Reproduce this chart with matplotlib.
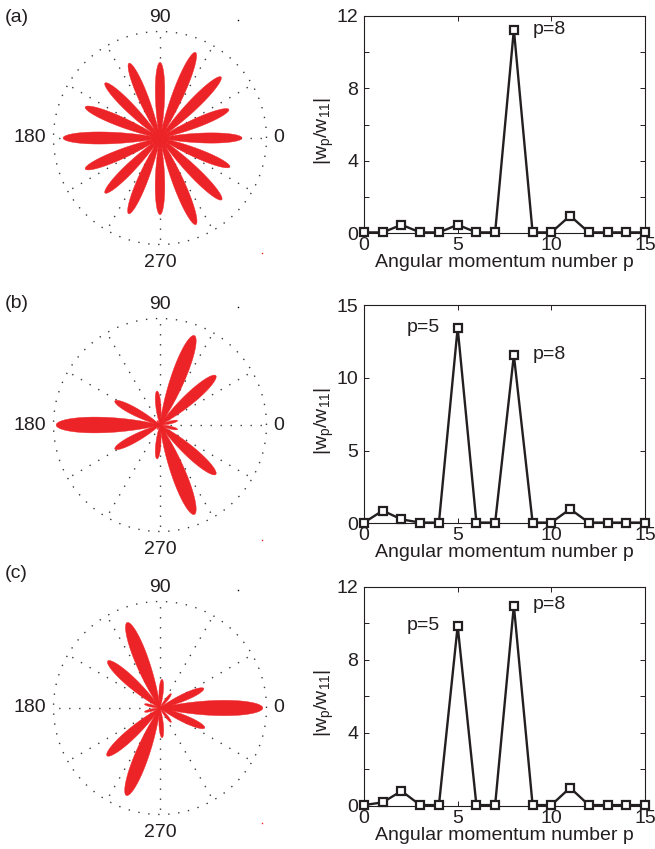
import numpy as np
import matplotlib
matplotlib.use("Agg")
import matplotlib.pyplot as plt
from matplotlib.lines import Line2D

plt.rcParams['font.family'] = ['Liberation Sans', 'DejaVu Sans']
plt.rcParams['mathtext.fontset'] = 'custom'
plt.rcParams['mathtext.rm'] = 'Liberation Sans'
plt.rcParams['mathtext.it'] = 'Liberation Sans:italic'
plt.rcParams['mathtext.bf'] = 'Liberation Sans:bold'

# ---------------- data ----------------
p_values = list(range(16))
w_a = [0.05, 0.05, 0.47, 0.05, 0.05, 0.47, 0.05, 0.05, 11.25, 0.05, 0.05, 0.97, 0.05, 0.05, 0.05, 0.05]
w_b = [0.05, 0.87, 0.27, 0.05, 0.05, 13.43, 0.05, 0.05, 11.56, 0.05, 0.05, 0.98, 0.05, 0.05, 0.05, 0.05]
w_c = [0.05, 0.20, 0.82, 0.05, 0.05, 9.85, 0.05, 0.05, 10.97, 0.05, 0.05, 1.00, 0.05, 0.05, 0.05, 0.05]

# polar lobes: direction (deg) and relative length
lobe_ang_a = [0, 22.5, 45, 67.5, 90, 112.5, 135, 157.5, 180, 202.5, 225, 247.5, 270, 292.5, 315, 337.5]
lobe_len_a = [0.77, 0.70, 0.81, 0.87, 0.71, 0.76, 0.73, 0.76, 0.91, 0.76, 0.73, 0.77, 0.72, 0.88, 0.82, 0.71]
lobe_ang_b = [14, 41.5, 69, 95, 124, 152, 180, 208, 236, 265, 291, 318.5, 346]
lobe_len_b = [0.17, 0.70, 0.90, 0.32, 0.05, 0.48, 0.975, 0.48, 0.05, 0.32, 0.90, 0.70, 0.17]
lobe_ang_c = [0, 24, 52, 86, 111, 138, 166, 194, 222, 249, 274, 308, 336]
lobe_len_c = [0.965, 0.45, 0.17, 0.27, 0.86, 0.66, 0.15, 0.15, 0.67, 0.88, 0.28, 0.17, 0.46]

panel_labels = ['(a)', '(b)', '(c)']
ylims = [12, 15, 12]
ytick_major = [[0, 4, 8, 12], [0, 5, 10, 15], [0, 4, 8, 12]]
ytick_all = [[0, 2, 4, 6, 8, 10, 12], [0, 5, 10, 15], [0, 2, 4, 6, 8, 10, 12]]
annotations = [
    [("p=8", 9.0, 11.28)],
    [("p=5", 2.3, 13.42), ("p=8", 9.0, 11.63)],
    [("p=5", 2.3, 9.85), ("p=8", 9.0, 11.0)],
]

# ---------------- layout ----------------
W, H = 655, 849
fig = plt.figure(figsize=(W / 100, H / 100), dpi=100)
TXT = '#231f20'
RED = '#ed2427'
FS = 14

centers_y = [138, 425, 708]
R = 106.5
right_boxes = [(16, 233.3), (305, 523.3), (586.7, 806)]
label_y = [17.5, 303.5, 573.5]
lobe_sets = [(lobe_ang_a, lobe_len_a, 6.6), (lobe_ang_b, lobe_len_b, 5.4), (lobe_ang_c, lobe_len_c, 5.5)]
w_sets = [w_a, w_b, w_c]

dot_ls = (0, (1, 6.2))

for i in range(3):
    cy = centers_y[i]
    cx = 160
    pax = fig.add_axes([(cx - R) / W, (H - cy - R) / H, 2 * R / W, 2 * R / H], projection='polar')
    pax.set_ylim(0, 1)
    pax.set_xticks([])
    pax.set_yticks([])
    pax.grid(False)
    pax.spines['polar'].set_visible(False)
    # dotted grid
    tt = np.linspace(0, 2 * np.pi, 721)
    pax.plot(tt, np.ones_like(tt), ls=dot_ls, lw=1.0, color='#3a3a3a', zorder=1, clip_on=False)
    for a in range(0, 360, 30):
        t = np.deg2rad(a)
        pax.plot([t, t], [0, 1], ls=dot_ls, lw=1.0, color='#3a3a3a', zorder=1, clip_on=False)
    # lobes
    angs, lens, k = lobe_sets[i]
    th = np.linspace(0, 2 * np.pi, 7201)
    r = np.zeros_like(th)
    for a, L in zip(angs, lens):
        d = (th - np.deg2rad(a) + np.pi) % (2 * np.pi) - np.pi
        x = k * d
        g = np.where(np.abs(x) < np.pi / 2, np.cos(x) ** 2, 0.0)
        r = np.maximum(r, L * g)
    pax.fill(th, r, color=RED, lw=0.3, ec=RED, zorder=3)
    # angle labels
    pax.text(0, 1.065, '0', ha='left', va='center', fontsize=FS, color=TXT)
    pax.text(np.pi, 1.065, '180', ha='right', va='center', fontsize=FS, color=TXT)
    pax.text(np.pi / 2, 1.13, '90', ha='center', va='center', fontsize=FS, color=TXT)
    pax.text(3 * np.pi / 2, 1.17, '270', ha='center', va='center', fontsize=FS, color=TXT)
    # panel label
    fig.text(5 / W, 1 - label_y[i] / H, panel_labels[i], ha='left', va='center', fontsize=FS, color=TXT)
    # small stray dots
    fig.add_artist(Line2D([(cx + 78) / W], [1 - (cy - 118) / H], marker='s', ms=1.0, mew=0, color='k'))
    fig.add_artist(Line2D([(cx + 102) / W], [1 - (cy + 115) / H], marker='s', ms=1.0, mew=0, color=RED))

    # right panel
    top, bot = right_boxes[i]
    ax = fig.add_axes([364 / W, (H - bot) / H, (645 - 364) / W, (bot - top) / H])
    ax.plot(p_values, w_sets[i], '-s', color=TXT, lw=1.7, ms=6.3, mew=1.6,
            mfc='white', mec=TXT, clip_on=False, zorder=5)
    ax.set_xlim(0, 15)
    ax.set_ylim(0, ylims[i])
    ax.set_xticks([0, 5, 10, 15])
    ax.set_yticks(ytick_all[i])
    ax.set_yticklabels([str(v) if v in ytick_major[i] else '' for v in ytick_all[i]])
    ax.tick_params(direction='in', top=True, right=True, length=3.5, width=0.7,
                   labelsize=FS, colors=TXT, pad=3)
    ax.tick_params(axis='y', pad=4)
    for s in ax.spines.values():
        s.set_linewidth(0.8)
        s.set_color(TXT)
    ax.set_xlabel('Angular momentum number p', fontsize=FS, color=TXT, labelpad=0)
    ax.set_ylabel(r'$\mathrm{|w_p/w_{11}|}$', fontsize=FS, color=TXT)
    ax.yaxis.set_label_coords(-0.10, 0.47)
    for txt, x, y in annotations[i]:
        ax.text(x, y, txt, ha='left', va='center', fontsize=FS, color=TXT)

fig.savefig('out.png', dpi=100)
